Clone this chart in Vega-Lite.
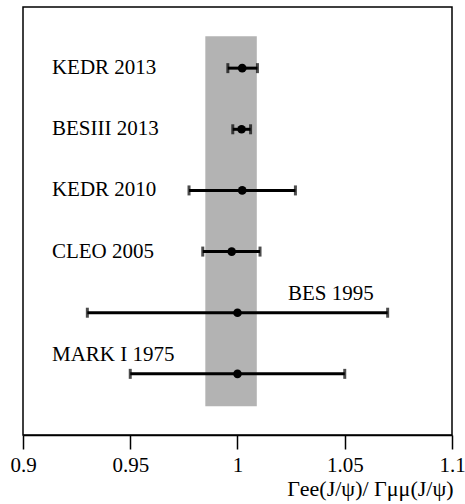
{
  "$schema": "https://vega.github.io/schema/vega-lite/v6.json",
  "width": 429,
  "height": 428,
  "autosize": {"type": "none"},
  "padding": {"left": 23, "top": 7, "right": 13, "bottom": 69},
  "background": "white",
  "config": {
    "view": {"stroke": "black", "strokeWidth": 1.5},
    "font": "Liberation Serif"
  },
  "datasets": {
    "meas": [
      {"experiment": "KEDR 2013", "row": 6, "value": 1.0022, "low": 0.9955, "high": 1.0093},
      {"experiment": "BESIII 2013", "row": 5, "value": 1.0019, "low": 0.9978, "high": 1.0061},
      {"experiment": "KEDR 2010", "row": 4, "value": 1.0022, "low": 0.9774, "high": 1.0270},
      {"experiment": "CLEO 2005", "row": 3, "value": 0.9973, "low": 0.9838, "high": 1.0105},
      {"experiment": "BES 1995", "row": 2, "value": 1.0, "low": 0.930, "high": 1.070},
      {"experiment": "MARK I 1975", "row": 1, "value": 1.0, "low": 0.950, "high": 1.050}
    ],
    "band": [{"lo": 0.985, "hi": 1.009, "bottom": 0.47, "top": 6.52}]
  },
  "encoding": {
    "y": {"field": "row", "type": "quantitative", "scale": {"domain": [0, 7], "nice": false, "zero": false}, "axis": null}
  },
  "layer": [
    {
      "data": {"name": "band"},
      "mark": {"type": "rect", "color": "#b3b3b3"},
      "encoding": {
        "x": {"field": "lo", "type": "quantitative"},
        "x2": {"field": "hi"},
        "y": {"field": "bottom", "type": "quantitative"},
        "y2": {"field": "top"}
      }
    },
    {
      "data": {"name": "meas"},
      "mark": {"type": "rule", "color": "black", "strokeWidth": 3},
      "encoding": {
        "x": {
          "field": "low", "type": "quantitative",
          "scale": {"domain": [0.9, 1.1], "nice": false, "zero": false},
          "axis": {
            "values": [0.9, 0.95, 1, 1.05, 1.1],
            "labelExpr": "datum.value == 1 ? '1' : format(datum.value, '.3~f')",
            "domainColor": "black", "domainWidth": 1.5,
            "tickColor": "black", "tickWidth": 1.5, "tickSize": 14,
            "grid": false,
            "labelFont": "Liberation Serif", "labelFontSize": 21, "labelColor": "black",
            "labelPadding": 5, "labelFlush": false,
            "title": "Γee(J/ψ)/ Γμμ(J/ψ)",
            "titleFont": "Liberation Serif", "titleFontSize": 22, "titleFontWeight": "normal",
            "titleColor": "black", "titleAnchor": "end", "titleAlign": "right",
            "titleX": 430, "titlePadding": 3
          }
        },
        "x2": {"field": "high"}
      }
    },
    {
      "data": {"name": "meas"},
      "mark": {"type": "tick", "orient": "vertical", "color": "black", "thickness": 3, "size": 10},
      "encoding": {"x": {"field": "low", "type": "quantitative"}}
    },
    {
      "data": {"name": "meas"},
      "mark": {"type": "tick", "orient": "vertical", "color": "black", "thickness": 3, "size": 10},
      "encoding": {"x": {"field": "high", "type": "quantitative"}}
    },
    {
      "data": {"name": "meas"},
      "mark": {"type": "circle", "color": "black", "opacity": 1, "size": 75},
      "encoding": {"x": {"field": "value", "type": "quantitative"}}
    },
    {
      "data": {"name": "meas"},
      "transform": [{"filter": "datum.row >= 3"}],
      "mark": {"type": "text", "align": "left", "baseline": "middle", "fontSize": 21, "font": "Liberation Serif", "color": "black"},
      "encoding": {
        "x": {"datum": 0.9135, "type": "quantitative"},
        "text": {"field": "experiment"}
      }
    },
    {
      "data": {"name": "meas"},
      "transform": [{"filter": "datum.row == 2"}],
      "mark": {"type": "text", "align": "left", "baseline": "middle", "fontSize": 21, "font": "Liberation Serif", "color": "black", "dy": -19},
      "encoding": {
        "x": {"datum": 1.0235, "type": "quantitative"},
        "text": {"field": "experiment"}
      }
    },
    {
      "data": {"name": "meas"},
      "transform": [{"filter": "datum.row == 1"}],
      "mark": {"type": "text", "align": "left", "baseline": "middle", "fontSize": 21, "font": "Liberation Serif", "color": "black", "dy": -19},
      "encoding": {
        "x": {"datum": 0.9135, "type": "quantitative"},
        "text": {"field": "experiment"}
      }
    }
  ]
}
